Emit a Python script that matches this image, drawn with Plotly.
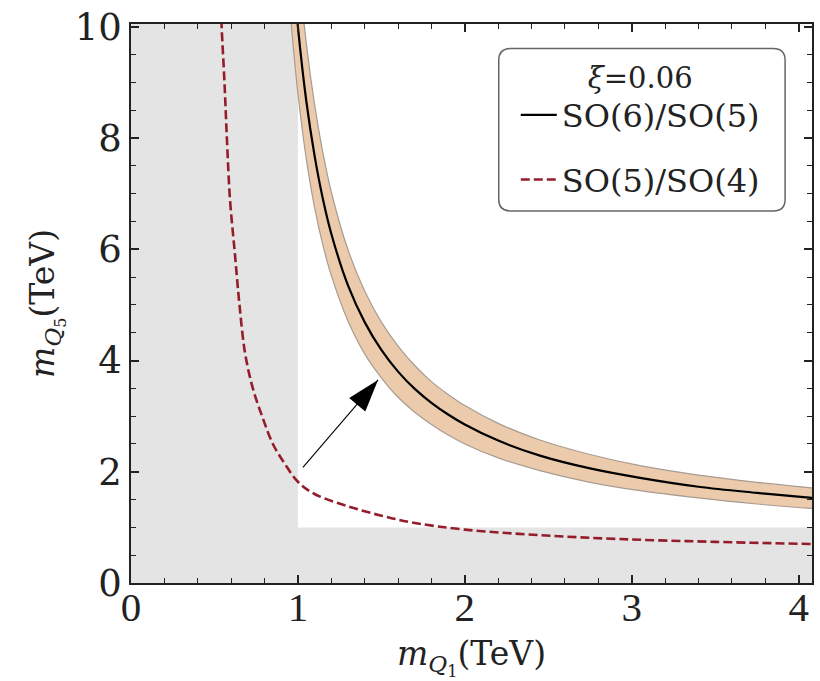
import plotly.graph_objects as go

# ---- data ----
# SO(6)/SO(5) central curve and band edges
so6_x     = [0.95, 0.97, 1.00, 1.05, 1.10, 1.15, 1.20, 1.30, 1.40, 1.50, 1.60, 1.70, 1.80, 1.90, 2.00, 2.20, 2.45, 2.75, 3.05, 3.40, 3.75, 4.08, 4.15]
so6_y     = [11.86, 11.03, 10.0, 8.67, 7.68, 6.90, 6.28, 5.35, 4.69, 4.19, 3.80, 3.49, 3.24, 3.03, 2.85, 2.56, 2.29, 2.06, 1.89, 1.73, 1.62, 1.53, 1.51]
so6_upper = [13.28, 12.35, 11.2, 9.71, 8.60, 7.73, 7.03, 5.99, 5.25, 4.69, 4.26, 3.91, 3.62, 3.39, 3.19, 2.87, 2.57, 2.31, 2.11, 1.94, 1.81, 1.71, 1.69]
so6_lower = [10.44, 9.71, 8.80, 7.63, 6.75, 6.07, 5.53, 4.71, 4.12, 3.69, 3.34, 3.07, 2.85, 2.66, 2.50, 2.25, 2.02, 1.81, 1.66, 1.53, 1.42, 1.34, 1.33]

# SO(5)/SO(4) curve
so5_x = [0.535, 0.543, 0.560, 0.575, 0.593, 0.623, 0.650, 0.683, 0.730, 0.790, 0.850, 0.920, 1.00, 1.10, 1.30, 1.50, 1.70, 2.00, 2.45, 2.93, 3.50, 4.08, 4.15]
so5_y = [10.6, 10.0, 9.00, 7.96, 6.90, 5.90, 5.00, 4.14, 3.50, 2.96, 2.50, 2.15, 1.82, 1.60, 1.38, 1.21, 1.08, 0.96, 0.86, 0.79, 0.74, 0.70, 0.695]

# excluded region limits (TeV)
excl_mQ1 = 1.0
excl_mQ5 = 1.0

# arrow (tail -> tip)
arrow_x = [1.03, 1.48]
arrow_y = [2.08, 3.65]

x_range = [0, 4.08]
y_range = [0, 10.05]
x_ticks = [0, 1, 2, 3, 4]
y_ticks = [0, 2, 4, 6, 8, 10]

legend_title = "<i>ξ</i>=0.06"
name_so6 = "SO(6)/SO(5)"
name_so5 = "SO(5)/SO(4)"

fig = go.Figure()

# excluded grey region
grey = "#e4e4e4"
fig.add_shape(type="rect", xref="x", yref="y", x0=x_range[0], x1=excl_mQ1,
              y0=y_range[0], y1=y_range[1], fillcolor=grey, line_width=0, layer="below")
fig.add_shape(type="rect", xref="x", yref="y", x0=excl_mQ1, x1=x_range[1] + 0.1,
              y0=y_range[0], y1=excl_mQ5, fillcolor=grey, line_width=0, layer="below")

# band
band_x = so6_x + so6_x[::-1]
band_y = so6_upper + so6_lower[::-1]
fig.add_trace(go.Scatter(x=band_x, y=band_y, mode="lines", fill="toself",
                         fillcolor="#ebcbab", line=dict(width=0, shape="spline"),
                         showlegend=False, hoverinfo="skip"))
fig.add_trace(go.Scatter(x=so6_x, y=so6_upper, mode="lines",
                         line=dict(color="#a89c92", width=1.2, shape="spline"),
                         showlegend=False, hoverinfo="skip"))
fig.add_trace(go.Scatter(x=so6_x, y=so6_lower, mode="lines",
                         line=dict(color="#a89c92", width=1.2, shape="spline"),
                         showlegend=False, hoverinfo="skip"))

# central curves
fig.add_trace(go.Scatter(x=so6_x, y=so6_y, mode="lines", name=name_so6,
                         line=dict(color="black", width=2.2, shape="spline"),
                         legendgroup="a"))
fig.add_trace(go.Scatter(x=so5_x, y=so5_y, mode="lines", name=name_so5,
                         line=dict(color="#951c2a", width=2.6, dash="9px,4px", shape="spline"),
                         legendgroup="b"))

# arrow
fig.add_trace(go.Scatter(x=arrow_x, y=arrow_y, mode="lines",
                         line=dict(color="black", width=1.1),
                         showlegend=False, hoverinfo="skip"))
fig.add_trace(go.Scatter(x=[arrow_x[1]], y=[arrow_y[1]], mode="markers",
                         marker=dict(symbol="arrow", size=34, angle=40, color="black",
                                     line=dict(width=0)),
                         showlegend=False, hoverinfo="skip"))

# rounded legend frame (legend itself drawn transparent on top)
bx0, bx1, by0, by1 = 0.540, 0.9605, 0.6655, 0.956
rx, ry = 0.0176, 0.0211
frame_path = (f"M {bx0+rx},{by1} L {bx1-rx},{by1} Q {bx1},{by1} {bx1},{by1-ry} "
              f"L {bx1},{by0+ry} Q {bx1},{by0} {bx1-rx},{by0} "
              f"L {bx0+rx},{by0} Q {bx0},{by0} {bx0},{by0+ry} "
              f"L {bx0},{by1-ry} Q {bx0},{by1} {bx0+rx},{by1} Z")
fig.add_shape(type="path", xref="paper", yref="paper", path=frame_path,
              fillcolor="white", line=dict(color="#666", width=1.5), layer="above")

axis_common = dict(showgrid=False, zeroline=False, showline=True, linecolor="#222",
                   linewidth=1.6, mirror="ticks", ticks="inside", ticklen=8,
                   tickwidth=1.5, tickcolor="#222", ticklabeloverflow="allow")

fig.update_xaxes(range=x_range, tickvals=x_ticks, **axis_common,
                 minor=dict(dtick=0.2, ticklen=5, tickwidth=1.2, ticks="inside", tickcolor="#222"),
                 tickfont=dict(family="Liberation Serif", size=41, color="#222"),
                 ticklabelstandoff=-13,
                 title=dict(text="<i>m</i><sub><i>Q</i><sub>1</sub></sub>(TeV)",
                            font=dict(family="DejaVu Serif", size=33, color="#222"),
                            standoff=22))
fig.update_yaxes(range=y_range, tickvals=y_ticks, **axis_common,
                 minor=dict(dtick=0.5, ticklen=5, tickwidth=1.2, ticks="inside", tickcolor="#222"),
                 tickfont=dict(family="DejaVu Serif", size=37, color="#222"),
                 title=dict(text="<i>m</i><sub><i>Q</i><sub>5</sub></sub>(TeV)",
                            font=dict(family="DejaVu Serif", size=33, color="#222"),
                            standoff=10))

fig.update_layout(
    width=820, height=681,
    margin=dict(l=131, r=6, t=17, b=96),
    plot_bgcolor="white", paper_bgcolor="white",
    showlegend=True,
    legend=dict(x=0.565, y=0.9537, xanchor="left", yanchor="top",
                bgcolor="rgba(0,0,0,0)", borderwidth=0,
                font=dict(family="DejaVu Serif", size=32, color="#222"),
                title=dict(text=legend_title, side="top center",
                           font=dict(family="DejaVu Serif", size=29, color="#222")),
                tracegroupgap=20, traceorder="grouped", itemwidth=36),
)

fig.write_html("out.html")
